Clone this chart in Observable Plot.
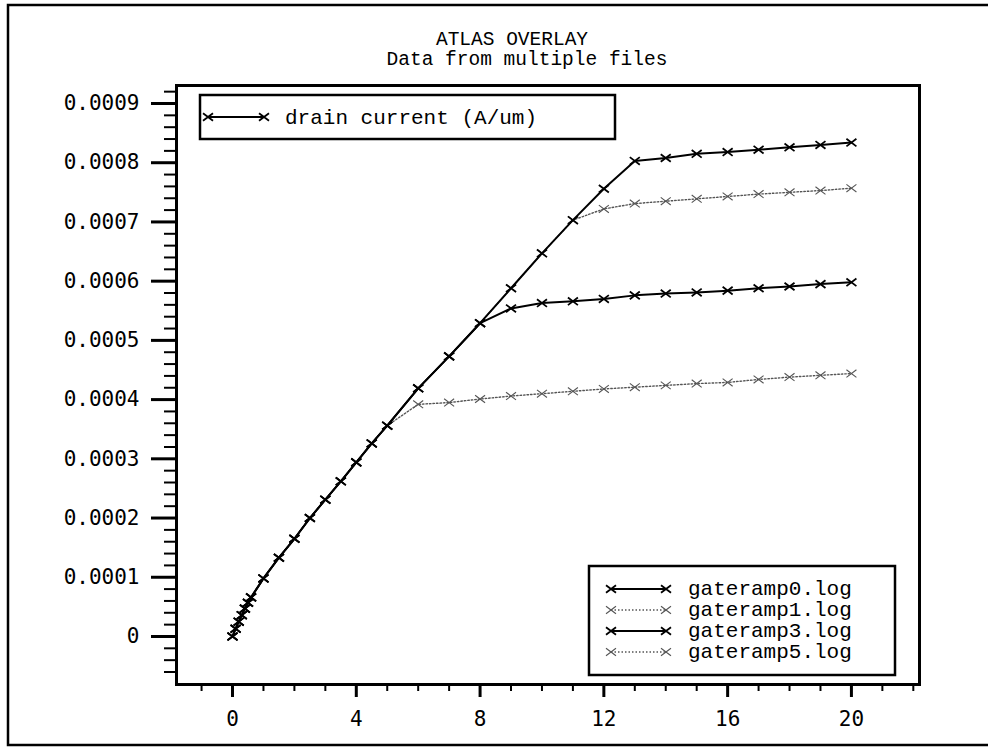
<!DOCTYPE html>
<html>
<head>
<meta charset="utf-8">
<script src="https://cdn.jsdelivr.net/npm/d3@7"></script>
<script src="https://cdn.jsdelivr.net/npm/@observablehq/plot@0.6"></script>
<style>
  body { margin: 0; background: #fff; }
</style>
</head>
<body>
<div id="chart"></div>
<script>
// ---- texts ----
const titleText = "ATLAS OVERLAY";
const subtitleText = "Data from multiple files";
const quantityLabel = "drain current (A/um)";
const seriesNames = ["gateramp0.log", "gateramp1.log", "gateramp3.log", "gateramp5.log"];
const seriesSolid = [true, false, true, false];

// ---- data ----
const gateramp0X = [0, 0.1, 0.2, 0.3, 0.4, 0.5, 0.6, 1, 1.5, 2, 2.5, 3, 3.5, 4, 4.5, 5, 6, 7, 8, 9, 10, 11, 12, 13, 14, 15, 16, 17, 18, 19, 20];
const gateramp0Y = [0, 0.000013, 0.000025, 0.000036, 0.000047, 0.000057, 0.000066, 0.000098, 0.000133, 0.000165, 0.0002, 0.000231, 0.000262, 0.000294, 0.000326, 0.000356, 0.000419, 0.000473, 0.000529, 0.000588, 0.000647, 0.000703, 0.000756, 0.000803, 0.000808, 0.000815, 0.000818, 0.000822, 0.000826, 0.00083, 0.000834];

const gateramp1X = [0, 0.1, 0.2, 0.3, 0.4, 0.5, 0.6, 1, 1.5, 2, 2.5, 3, 3.5, 4, 4.5, 5, 6, 7, 8, 9, 10, 11, 12, 13, 14, 15, 16, 17, 18, 19, 20];
const gateramp1Y = [0, 0.000013, 0.000025, 0.000036, 0.000047, 0.000057, 0.000066, 0.000098, 0.000133, 0.000165, 0.0002, 0.000231, 0.000262, 0.000294, 0.000326, 0.000356, 0.000419, 0.000473, 0.000529, 0.000588, 0.000647, 0.000703, 0.000722, 0.000731, 0.000735, 0.000739, 0.000743, 0.000747, 0.00075, 0.000753, 0.000757];

const gateramp3X = [0, 0.1, 0.2, 0.3, 0.4, 0.5, 0.6, 1, 1.5, 2, 2.5, 3, 3.5, 4, 4.5, 5, 6, 7, 8, 9, 10, 11, 12, 13, 14, 15, 16, 17, 18, 19, 20];
const gateramp3Y = [0, 0.000013, 0.000025, 0.000036, 0.000047, 0.000057, 0.000066, 0.000098, 0.000133, 0.000165, 0.0002, 0.000231, 0.000262, 0.000294, 0.000326, 0.000356, 0.000419, 0.000473, 0.000529, 0.000554, 0.000563, 0.000566, 0.00057, 0.000576, 0.000579, 0.000581, 0.000584, 0.000588, 0.000591, 0.000595, 0.000598];

const gateramp5X = [0, 0.1, 0.2, 0.3, 0.4, 0.5, 0.6, 1, 1.5, 2, 2.5, 3, 3.5, 4, 4.5, 5, 6, 7, 8, 9, 10, 11, 12, 13, 14, 15, 16, 17, 18, 19, 20];
const gateramp5Y = [0, 0.000013, 0.000025, 0.000036, 0.000047, 0.000057, 0.000066, 0.000098, 0.000133, 0.000165, 0.0002, 0.000231, 0.000262, 0.000294, 0.000326, 0.000356, 0.000392, 0.000395, 0.000401, 0.000406, 0.00041, 0.000414, 0.000418, 0.000421, 0.000424, 0.000427, 0.000429, 0.000434, 0.000438, 0.000441, 0.000444];

// ---- ticks ----
const xMajorTicks = [0, 4, 8, 12, 16, 20];
const xMinorTicks = [-1, 1, 2, 3, 5, 6, 7, 9, 10, 11, 13, 14, 15, 17, 18, 19, 21, 22];
const yMajorTicks = [0, 0.0001, 0.0002, 0.0003, 0.0004, 0.0005, 0.0006, 0.0007, 0.0008, 0.0009];
const yMajorLabels = ["0", "0.0001", "0.0002", "0.0003", "0.0004", "0.0005", "0.0006", "0.0007", "0.0008", "0.0009"];
const yMinorStep = 0.00002;

// ---- build table ----
const seriesX = [gateramp0X, gateramp1X, gateramp3X, gateramp5X];
const seriesY = [gateramp0Y, gateramp1Y, gateramp3Y, gateramp5Y];
const rows = [];
seriesNames.forEach((name, k) => {
  seriesX[k].forEach((x, i) => rows.push({series: name, x, y: seriesY[k][i], solid: seriesSolid[k]}));
});
const solidRows = rows.filter(d => d.solid);
const dottedRows = rows.filter(d => !d.solid);

const yMinorTicks = [];
for (let i = -3; i <= 46; i++) {
  const v = i * yMinorStep;
  if (i % 5 !== 0) yMinorTicks.push(+v.toFixed(6));
}

// cross marker, wider than tall
const crossSymbol = {
  draw(ctx, size) {
    const w = 5, h = 3.8;
    ctx.moveTo(-w, -h); ctx.lineTo(w, h);
    ctx.moveTo(-w, h); ctx.lineTo(w, -h);
  }
};

const W = 988, H = 749;
const mL = 176, mR = 69, mT = 85, mB = 65;

const svg = Plot.plot({
  width: W, height: H,
  marginLeft: mL, marginRight: mR, marginTop: mT, marginBottom: mB,
  x: {domain: [-1.81, 22.2], label: null},
  y: {domain: [-0.0000811, 0.0009304], label: null},
  style: {fontFamily: "'DejaVu Sans Mono', monospace", fontSize: "21px", color: "#000", background: "#fff", overflow: "visible"},
  marks: [
    Plot.frame({stroke: "#000", strokeWidth: 3}),
    Plot.axisY(yMajorTicks, {tickSize: 25, tickPadding: 12, strokeWidth: 3, fontSize: 21,
      tickFormat: d => yMajorLabels[yMajorTicks.indexOf(d)], label: null}),
    Plot.axisY(yMinorTicks, {tickSize: 12, strokeWidth: 2, tickFormat: () => "", label: null}),
    Plot.axisX(xMajorTicks, {tickSize: 13, tickPadding: 14, strokeWidth: 3, fontSize: 21, label: null}),
    Plot.axisX(xMinorTicks, {tickSize: 7, strokeWidth: 2, tickFormat: () => "", label: null}),
    Plot.line(dottedRows, {x: "x", y: "y", z: "series", stroke: "#555", strokeWidth: 1.4, strokeDasharray: "1.5,2"}),
    Plot.dot(dottedRows, {x: "x", y: "y", symbol: crossSymbol, stroke: "#555", strokeWidth: 1.1, r: 4}),
    Plot.line(solidRows, {x: "x", y: "y", z: "series", stroke: "#000", strokeWidth: 2}),
    Plot.dot(solidRows, {x: "x", y: "y", symbol: crossSymbol, stroke: "#000", strokeWidth: 1.8, r: 4})
  ]
});

document.getElementById("chart").appendChild(svg);

// ---- decorations: border, titles, legends ----
const s = d3.select(svg);
const mono = "'Liberation Mono', monospace";

s.append("rect").attr("x", 8).attr("y", 5).attr("width", 995).attr("height", 740)
  .attr("fill", "none").attr("stroke", "#000").attr("stroke-width", 2.5);

s.append("text").attr("x", 512).attr("y", 45).attr("text-anchor", "middle")
  .style("font-family", mono).style("font-size", "19.5px").attr("fill", "#000").text(titleText);
s.append("text").attr("x", 527).attr("y", 65).attr("text-anchor", "middle")
  .style("font-family", mono).style("font-size", "19.5px").attr("fill", "#000").text(subtitleText);

function legendSymbol(g, x0, x1, y, solid) {
  g.append("line").attr("x1", x0).attr("x2", x1).attr("y1", y).attr("y2", y)
    .attr("stroke", solid ? "#000" : "#555").attr("stroke-width", solid ? 2 : 1.4)
    .attr("stroke-dasharray", solid ? null : "1.5,2");
  [x0, x1].forEach(cx => {
    g.append("path").attr("d", `M${cx-5},${y-3.8}L${cx+5},${y+3.8}M${cx-5},${y+3.8}L${cx+5},${y-3.8}`)
      .attr("stroke", solid ? "#000" : "#555").attr("stroke-width", solid ? 1.8 : 1.1).attr("fill", "none");
  });
}

// top legend (quantity)
const lg1 = s.append("g");
lg1.append("rect").attr("x", 200).attr("y", 95).attr("width", 415).attr("height", 44)
  .attr("fill", "#fff").attr("stroke", "#000").attr("stroke-width", 2.5);
legendSymbol(lg1, 208, 264, 117, true);
lg1.append("text").attr("x", 285).attr("y", 124).attr("text-anchor", "start")
  .style("font-family", mono).style("font-size", "21px").attr("fill", "#000").text(quantityLabel);

// bottom-right legend (files)
const lg2 = s.append("g");
lg2.append("rect").attr("x", 589).attr("y", 566).attr("width", 306).attr("height", 109)
  .attr("fill", "#fff").attr("stroke", "#000").attr("stroke-width", 2.5);
seriesNames.forEach((name, k) => {
  const y = 589 + k * 21;
  legendSymbol(lg2, 611, 666, y, seriesSolid[k]);
  lg2.append("text").attr("x", 688).attr("y", y + 6).attr("text-anchor", "start")
    .style("font-family", mono).style("font-size", "21px").attr("fill", "#000").text(name);
});
</script>
</body>
</html>
